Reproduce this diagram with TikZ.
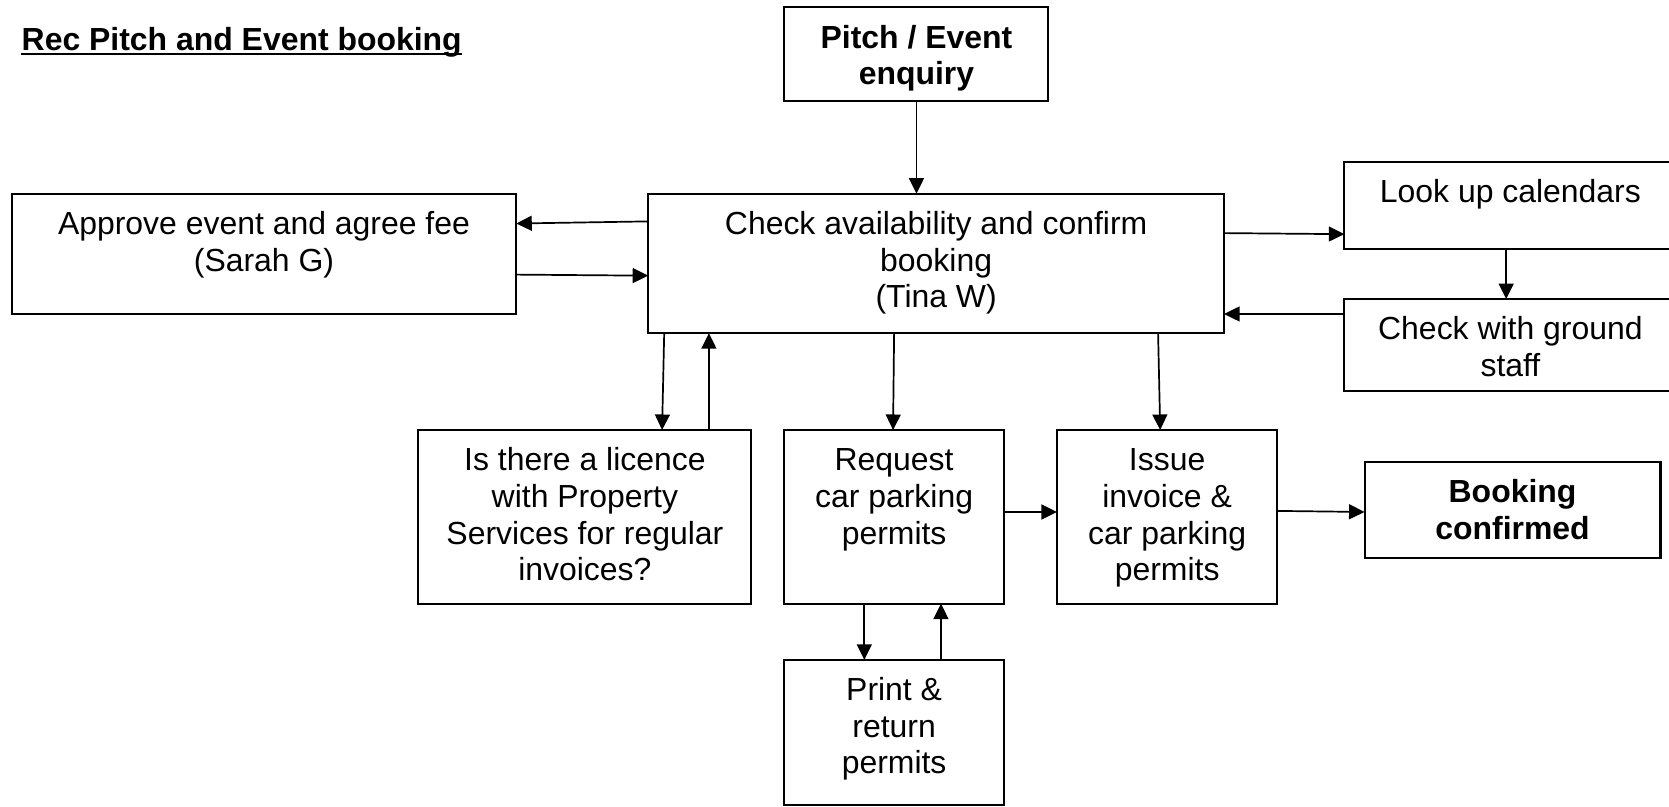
\documentclass[tikz,border=0pt]{standalone}
\usepackage{fontspec}
\setmainfont{Liberation Sans}
\usetikzlibrary{arrows.meta}
\newcommand{\bxt}[3]{\parbox[c][#2][t]{#1}{\centering\vspace*{7pt}\strut #3}}
\begin{document}
\begin{tikzpicture}[x=0.5pt,y=-0.5pt,
  box/.style={draw, line width=0.95pt, inner sep=0pt, outer sep=0pt, font=\fontsize{15}{17.25}\selectfont},
  arr/.style={line width=0.8pt, -{Triangle[length=7.3pt,width=7pt]}}]
\useasboundingbox (0,0) rectangle (1568,758);
\clip (0,0) rectangle (1568,758);
\node[inner sep=0pt, anchor=base west, font=\fontsize{15}{17.25}\selectfont\bfseries] (title) at (20,47) {Rec Pitch and Event booking};
\draw[line width=1pt] ([yshift=-1.7pt]title.base west) -- ([yshift=-1.7pt]title.base east);

\node[box] (pitch) at (861,51) {\bxt{124pt}{44pt}{\bfseries Pitch / Event\\enquiry}};
\node[box] (chk) at (879.5,247.5) {\bxt{270.5pt}{65.5pt}{Check availability and confirm\\booking\\(Tina W)}};
\node[box] (appr) at (248,238.5) {\bxt{237pt}{56.5pt}{Approve event and agree fee\\(Sarah G)}};
\node[box] (look) at (1419,193) {\bxt{156pt}{41pt}{Look up calendars}};
\node[box] (grnd) at (1419,324) {\bxt{156pt}{43pt}{Check with ground\\staff}};
\node[box] (lic) at (549.5,485.5) {\bxt{156.5pt}{81.5pt}{Is there a licence\\with Property\\Services for regular\\invoices?}};
\node[box] (req) at (840,485.5) {\bxt{103pt}{81.5pt}{Request\\car parking\\permits}};
\node[box] (iss) at (1096.5,485.5) {\bxt{103.5pt}{81.5pt}{Issue\\invoice \&\\car parking\\permits}};
\node[box] (conf) at (1421,479) {\bxt{139pt}{45pt}{\bfseries Booking\\confirmed}};
\node[box] (prt) at (840,688) {\bxt{103pt}{68pt}{Print \&\\return\\permits}};

\draw[arr] (pitch.south) -- (pitch.south |- chk.north);
\draw[arr] ([yshift=-13pt]chk.north west) -- ([yshift=-14pt]appr.north east);
\draw[arr] ([yshift=-38pt]appr.north east) -- ([yshift=-38.5pt]chk.north west);
\draw[arr] ([yshift=-18.5pt]chk.north east) -- ([yshift=-34pt]look.north west);
\draw[arr] ([xshift=-2pt]look.south) -- ([xshift=-2pt]grnd.north);
\draw[arr] ([yshift=-7pt]grnd.north west) -- ([yshift=-56.5pt]chk.north east);
\draw[arr] ([xshift=7.5pt]chk.south west) -- ([xshift=114.5pt]lic.north west);
\draw[arr] ([xshift=136.5pt]lic.north west) -- ([xshift=28.5pt]chk.south west);
\draw[arr] ([xshift=115.5pt]chk.south west) -- ([xshift=-0.5pt]req.north);
\draw[arr] ([xshift=239.5pt]chk.south west) -- ([xshift=-3.25pt]iss.north);
\draw[arr] ([yshift=-38.5pt]req.north east) -- ([yshift=-38.5pt]iss.north west);
\draw[arr] ([yshift=-38pt]iss.north east) -- ([yshift=-23.5pt]conf.north west);
\draw[arr] ([xshift=-14pt]req.south) -- ([xshift=-14pt]prt.north);
\draw[arr] ([xshift=22pt]prt.north) -- ([xshift=22pt]req.south);
\end{tikzpicture}
\end{document}
